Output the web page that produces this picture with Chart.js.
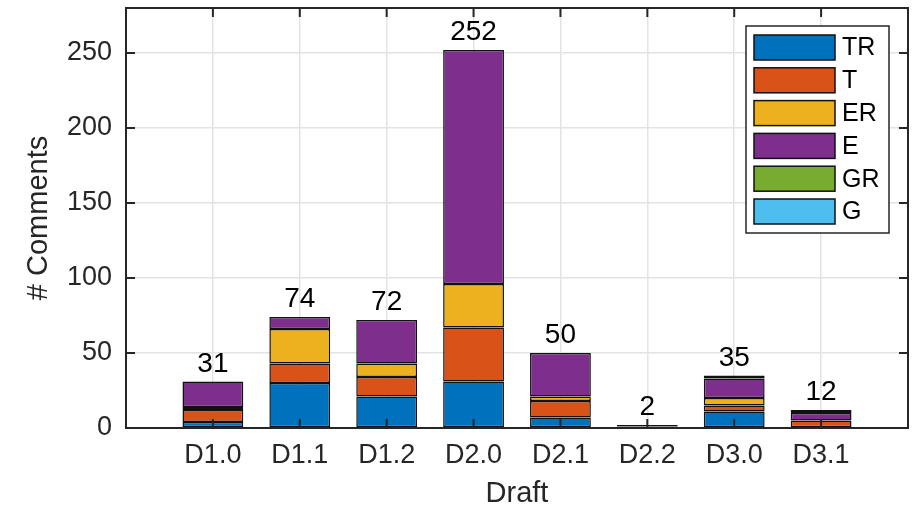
<!DOCTYPE html>
<html>
<head>
<meta charset="utf-8">
<script src="https://cdn.jsdelivr.net/npm/chart.js@4.4.1/dist/chart.umd.min.js"></script>
<style>
  body { margin: 0; background: #fff; }
  #wrap { width: 920px; height: 508px; }
</style>
</head>
<body>
<div id="wrap"><canvas id="c" width="920" height="508"></canvas></div>
<script>
// drafts along x, comment counts per type (stacked bottom -> top)
const categories = ['D1.0', 'D1.1', 'D1.2', 'D2.0', 'D2.1', 'D2.2', 'D3.0', 'D3.1'];
const seriesNames = ['TR', 'T', 'ER', 'E', 'GR', 'G'];
const trVals = [4, 30, 21, 31, 7, 1, 11, 0];
const tVals  = [8, 13, 13, 36, 11, 0, 4, 5];
const erVals = [2, 23, 9, 29, 3, 0, 5, 0];
const eVals  = [17, 8, 29, 156, 29, 1, 13, 5];
const grVals = [0, 0, 0, 0, 0, 0, 1, 0];
const gVals  = [0, 0, 0, 0, 0, 0, 1, 2];
const yTicks = [0, 50, 100, 150, 200, 250];

const colors = ['#0072BD', '#D95319', '#EDB120', '#7E2F8E', '#77AC30', '#4DBEEE'];
const FONT = '"Liberation Sans", Arial, sans-serif';
const AX = '#262626';

const allVals = [trVals, tVals, erVals, eVals, grVals, gVals];
const datasets = allVals.map((vals, k) => ({
  label: seriesNames[k],
  data: vals.map((v, i) => ({ x: i + 1, y: v })),
  backgroundColor: colors[k],
  borderColor: '#111',
  borderWidth: 1.5,
  borderSkipped: false,
  barPercentage: 0.7,
  categoryPercentage: 1
}));

/* --- totals, inside ticks, box, legend --- */
const overlay = {
  id: 'overlay',
  afterDatasetsDraw(chart) {
    const { ctx, chartArea: a, scales: { x, y } } = chart;
    ctx.save();

    // totals above bars
    ctx.font = '28px ' + FONT;
    ctx.fillStyle = '#000';
    ctx.textAlign = 'center';
    ctx.textBaseline = 'alphabetic';
    categories.forEach((c, i) => {
      const total = allVals.reduce((s, arr) => s + arr[i], 0);
      ctx.fillText(String(total), x.getPixelForValue(i + 1), y.getPixelForValue(total) - 10);
    });

    // ticks pointing inward
    ctx.strokeStyle = AX;
    ctx.lineWidth = 2;
    const tl = 9;
    ctx.beginPath();
    categories.forEach((c, i) => {
      const px = x.getPixelForValue(i + 1);
      ctx.moveTo(px, a.bottom); ctx.lineTo(px, a.bottom - tl);
      ctx.moveTo(px, a.top); ctx.lineTo(px, a.top + tl);
    });
    yTicks.forEach(v => {
      const py = y.getPixelForValue(v);
      ctx.moveTo(a.left, py); ctx.lineTo(a.left + tl, py);
      ctx.moveTo(a.right, py); ctx.lineTo(a.right - tl, py);
    });
    ctx.stroke();

    // axes box
    ctx.strokeRect(a.left, a.top, a.width, a.height);
    ctx.restore();
  },
  afterDraw(chart) {
    const ctx = chart.ctx;
    const lx = 746, ly = 26, lw = 143, lh = 207;
    ctx.save();
    ctx.fillStyle = '#fff';
    ctx.fillRect(lx, ly, lw, lh);
    ctx.strokeStyle = AX;
    ctx.lineWidth = 1.5;
    ctx.strokeRect(lx, ly, lw, lh);
    ctx.font = '25px ' + FONT;
    ctx.textAlign = 'left';
    ctx.textBaseline = 'middle';
    chart.data.datasets.forEach((d, k) => {
      const sy = 35 + k * 32.8;
      ctx.fillStyle = d.backgroundColor;
      ctx.fillRect(754, sy, 81, 25);
      ctx.strokeStyle = '#111';
      ctx.lineWidth = 1.5;
      ctx.strokeRect(754, sy, 81, 25);
      ctx.fillStyle = '#000';
      ctx.fillText(d.label, 842, sy + 13.5);
    });
    ctx.restore();
  }
};

new Chart(document.getElementById('c'), {
  type: 'bar',
  data: { datasets },
  options: {
    responsive: false,
    animation: false,
    layout: { padding: { left: 0, top: 8, right: 12, bottom: 0 } },
    plugins: { legend: { display: false }, tooltip: { enabled: false } },
    scales: {
      x: {
        type: 'linear',
        stacked: true,
        offset: false,
        min: 0,
        max: 9,
        afterBuildTicks: s => { s.ticks = categories.map((c, i) => ({ value: i + 1 })); },
        afterFit: s => { s.height = 80; s.paddingLeft = 0; s.paddingRight = 0; },
        border: { display: false },
        grid: { color: '#e3e3e3', lineWidth: 1.5, drawTicks: false, offset: false },
        ticks: {
          padding: 11,
          color: AX,
          font: { family: FONT, size: 27 },
          maxRotation: 0,
          autoSkip: false,
          callback: v => categories[v - 1] || ''
        },
        title: {
          display: true,
          text: 'Draft',
          color: AX,
          font: { family: FONT, size: 29, lineHeight: 1 },
          padding: { top: 0, bottom: 0 }
        }
      },
      y: {
        stacked: true,
        min: 0,
        max: 280,
        afterBuildTicks: s => { s.ticks = yTicks.map(v => ({ value: v })); },
        afterFit: s => { s.width = 126; s.paddingTop = 0; s.paddingBottom = 0; },
        border: { display: false },
        grid: { color: '#e3e3e3', lineWidth: 1.5, drawTicks: false },
        ticks: {
          padding: 14,
          color: AX,
          font: { family: FONT, size: 27 }
        },
        title: {
          display: true,
          text: '# Comments',
          color: AX,
          font: { family: FONT, size: 29 },
          padding: { top: 22, bottom: 0 }
        }
      }
    }
  },
  plugins: [overlay]
});
</script>
</body>
</html>
